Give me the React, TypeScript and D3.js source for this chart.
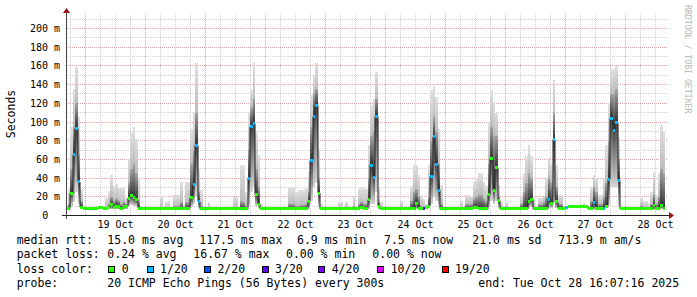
import React from 'react';
import * as d3 from 'd3';

// ---- DATA: hourly buckets, first bucket = 2025-10-18 16:00 UTC ----
// median rtt (ms)
const medianMs = [
  7, 7.5, 24, 65, 93, 36, 9, 7, // Oct 18 16h-23h
  7, 7, 7, 7, 7, 8.3, 8.3, 7, 7, 8.5, 11.5, 8.5, 10, 10, 7, 10, 10, 18.7, 21, 19, 17, 8, 7, 7, // Oct 19
  7, 7, 7, 7, 7, 7, 7, 7, 7, 7, 7, 7, 7, 7, 7, 7, 7, 7.5, 19, 33, 75, 14.5, 7, 7, // Oct 20
  7, 7, 7, 7, 7, 7, 7, 7, 7, 7, 7, 7, 7, 7, 7, 7, 7, 40, 95, 98.5, 22, 12, 7, 7, // Oct 21
  7, 7, 7, 7, 7, 7, 7, 7, 7, 7, 7, 7, 7, 7, 7, 7, 7, 15, 59, 106, 118, 24, 7, 7, // Oct 22
  7, 7, 7, 7, 7, 7, 7, 7, 7, 7, 7, 7, 7, 7, 9, 7, 7, 17, 54, 41, 106, 10, 7, 7, // Oct 23
  7, 7, 7, 7, 7, 7, 7, 7, 7, 7, 7, 7, 12.5, 8, 7, 7, 8.5, 10, 42, 84, 55, 27, 7, 7, // Oct 24
  7, 7, 7, 7, 7, 7, 7, 7, 7, 7, 7, 8.5, 8.5, 7, 7, 7, 7, 22, 61, 27, 51, 16, 7, 7, // Oct 25
  7, 7, 7, 7, 7, 7, 7, 7, 7, 15, 17, 7, 7, 7, 7, 7, 7, 17.6, 13, 81, 14.5, 7.5, 8, 8, // Oct 26
  9, 9.8, 9.8, 9.8, 9.8, 9.8, 9.8, 9.8, 9.8, 7, 7, 14.4, 7, 7, 7, 8, 10, 38.7, 104, 91, 99, 37.6, 7, 7, // Oct 27
  7, 7, 7, 7, 7, 7, 8, 8, 8, 8, 7, 11, 7, 7.5, 11, 8, // Oct 28 0h-15h
];

// lost pings out of 20
const lossCount = [
  0, 0, 0, 1, 1, 1, 0, 0,
  0, 0, 0, 0, 0, 0, 0, 0, 0, 0, 0, 0, 0, 0, 0, 0, 0, 0, 0, 0, 0, 0, 0, 0,
  0, 0, 0, 0, 0, 0, 0, 0, 0, 0, 0, 0, 0, 0, 0, 0, 0, 0, 0, 1, 1, 1, 0, 0,
  0, 0, 0, 0, 0, 0, 0, 0, 0, 0, 0, 0, 0, 0, 0, 0, 0, 1, 1, 1, 0, 0, 0, 0,
  0, 0, 0, 0, 0, 0, 0, 0, 0, 0, 0, 0, 0, 0, 0, 0, 0, 0, 1, 1, 1, 0, 0, 0,
  0, 0, 0, 0, 0, 0, 0, 0, 0, 0, 0, 0, 0, 0, 0, 0, 0, 0, 1, 1, 1, 0, 0, 0,
  0, 0, 0, 0, 0, 0, 0, 0, 0, 0, 0, 0, 0, 0, 0, 3, 0, 0, 1, 1, 1, 1, 0, 0,
  0, 0, 0, 0, 0, 0, 0, 0, 0, 0, 0, 0, 0, 0, 0, 0, 0, 0, 0, 0, 0, 0, 0, 0,
  0, 0, 0, 0, 0, 0, 0, 0, 0, 0, 0, 0, 0, 0, 0, 0, 0, 1, 0, 1, 0, 0, 0, 0,
  1, 0, 0, 0, 0, 0, 0, 0, 0, 0, 0, 1, 0, 0, 0, 1, 0, 1, 1, 1, 1, 1, 0, 0,
  0, 0, 0, 0, 0, 0, 0, 0, 0, 0, 0, 0, 0, 0, 0, 0,
];

// smoke: lowest ping (ms)
const pingLow = [
  6.5, 6.6, 9, 14, 25, 12, 7, 6.5,
  6.5, 6.5, 6.5, 6.5, 6.5, 6.5, 6.5, 6.5, 6.5, 6.5, 6.5, 6.5, 6.5, 6.5, 6.5, 6.5, 6.5, 10, 11, 10, 10, 7, 6.5, 6.5,
  6.5, 6.5, 6.5, 6.5, 6.5, 6.5, 6.5, 6.5, 6.5, 6.5, 6.5, 6.5, 6.5, 6.5, 6.5, 6.5, 6.5, 6.5, 9, 12, 20, 8, 6.5, 6.5,
  6.5, 6.5, 6.5, 6.5, 6.5, 6.5, 6.5, 6.5, 6.5, 6.5, 6.5, 6.5, 6.5, 6.5, 6.5, 6.5, 6.5, 10, 25, 30, 10, 8, 6.5, 6.5,
  6.5, 6.5, 6.5, 6.5, 6.5, 6.5, 6.5, 6.5, 6.5, 6.5, 6.5, 6.5, 6.5, 6.5, 6.5, 6.5, 6.5, 8, 15, 30, 35, 9, 6.5, 6.5,
  6.5, 6.5, 6.5, 6.5, 6.5, 6.5, 6.5, 6.5, 6.5, 6.5, 6.5, 6.5, 6.5, 6.5, 6.5, 6.5, 6.5, 8, 12, 12, 25, 7, 6.5, 6.5,
  6.5, 6.5, 6.5, 6.5, 6.5, 6.5, 6.5, 6.5, 6.5, 6.5, 6.5, 6.5, 6.5, 6.5, 6.5, 6.5, 6.5, 7.5, 12, 20, 15, 9, 6.5, 6.5,
  6.5, 6.5, 6.5, 6.5, 6.5, 6.5, 6.5, 6.5, 6.5, 6.5, 6.5, 6.5, 6.5, 6.5, 6.5, 6.5, 6.5, 9, 15, 12, 15, 8, 6.5, 6.5,
  6.5, 6.5, 6.5, 6.5, 6.5, 6.5, 6.5, 6.5, 6.5, 8, 9, 6.5, 6.5, 6.5, 6.5, 6.5, 6.5, 8, 8, 20, 8, 6.5, 6.5, 6.5,
  7.5, 8, 8, 8, 8, 8, 8, 8, 8, 6.5, 6.5, 8, 6.5, 6.5, 6.5, 6.5, 8, 12, 30, 30, 30, 10, 6.5, 6.5,
  6.5, 6.5, 6.5, 6.5, 6.5, 6.5, 6.5, 6.5, 6.5, 6.5, 6.5, 6.5, 6.5, 6.5, 6.5, 6.5,
];

// smoke: top of the dense (dark) part (ms)
const pingUpper = [
  7.5, 12, 50, 95, 120, 65, 15, 7.5,
  7.5, 7.5, 7.5, 7.5, 7.5, 9, 9, 7.5, 9, 12, 20, 15, 18, 16, 12, 14, 12, 35, 50, 55, 45, 14, 7.5, 7.5,
  7.5, 7.5, 7.5, 7.5, 7.5, 7.5, 9, 7.5, 8, 8, 7.5, 10, 10, 10, 14, 8, 14, 14, 55, 70, 110, 25, 10, 7.5,
  7.5, 9, 7.5, 7.5, 7.5, 7.5, 7.5, 7.5, 7.5, 7.5, 7.5, 9, 9, 7.5, 15, 14, 10, 70, 115, 125, 50, 30, 8, 7.5,
  7.5, 7.5, 7.5, 7.5, 7.5, 8, 8, 7.5, 7.5, 12, 12, 12, 10, 10, 11, 11, 12, 25, 95, 130, 135, 40, 8, 7.5,
  7.5, 7.5, 7.5, 7.5, 7.5, 8, 8, 7.5, 8, 7.5, 7.5, 10, 7.5, 12, 14, 12, 12, 40, 85, 90, 125, 15, 8, 7.5,
  7.5, 7.5, 7.5, 7.5, 7.5, 7.5, 9, 7.5, 7.5, 7.5, 15, 25, 28, 20, 10, 9, 9, 20, 80, 105, 90, 55, 12, 7.5,
  7.5, 7.5, 7.5, 7.5, 7.5, 7.5, 9, 7.5, 12, 12, 12, 18, 20, 22, 22, 18, 15, 55, 95, 85, 85, 20, 8, 7.5,
  8, 7.5, 7.5, 7.5, 7.5, 7.5, 12, 25, 35, 45, 40, 10, 7.5, 12, 12, 14, 20, 40, 35, 110, 30, 12, 12, 8.5,
  9.5, 10.5, 10.5, 10.5, 10.5, 10.5, 10.5, 11, 10.5, 7.5, 15, 30, 25, 12, 12, 20, 35, 80, 130, 130, 135, 60, 8, 7.5,
  7.5, 7.5, 7.5, 7.5, 7.5, 7.5, 10, 9, 9, 8.5, 12, 22, 12, 20, 50, 45,
];

// smoke: highest ping (ms)
const pingHigh = [
  10, 28, 95, 135, 159, 105, 28, 9,
  8, 8, 8, 8, 8, 10, 10, 9, 19, 26, 43, 32, 34, 29, 29, 29, 19, 60, 88, 95, 82, 40, 10, 9,
  8, 8, 8, 8, 8, 8, 21, 9, 14.5, 15, 9, 22, 22, 22, 36, 12, 36, 36, 93, 110, 163, 50, 27, 9,
  8, 14, 8, 8, 8, 8, 8.5, 8.5, 8, 8, 8, 20, 20, 8, 54, 54, 25, 110, 134, 164, 89, 65, 12, 8,
  8, 8, 8, 8, 8, 8.5, 8.5, 8, 8, 30, 30, 30, 25, 27, 27, 27, 29, 46, 129, 150, 163, 71, 12, 8,
  8, 8, 8, 8, 8, 14.5, 14.5, 8, 14.5, 8, 8, 21, 8, 29, 29, 29, 28, 75, 118, 125, 153, 30, 14, 10,
  8, 8, 8, 8, 8, 8, 15, 8, 8, 8, 32, 54, 54, 43, 20, 18, 12, 54, 134, 139, 127, 93, 33, 10,
  8, 8, 8, 8, 8, 8, 15, 8, 22, 22, 21, 36, 40, 45, 45, 36, 32, 100, 134, 121, 110, 33, 14, 10,
  14, 8, 8, 9, 9, 9, 20, 45, 64, 75, 64, 19, 10, 19, 19, 21.5, 40, 61, 55, 145, 54, 22, 22, 10,
  10, 11, 11, 11, 11, 11, 11, 13, 11, 9, 30, 43, 40, 22, 22, 40, 75, 120, 157, 157, 160, 84, 10, 8,
  8, 8, 8, 8, 8, 8, 19, 15, 15, 12, 25, 47, 22, 45, 97, 90,
];

const lossLevels = [0, 1, 2, 3, 4, 10, 19];
const lossColors = ['#26ff00', '#00b8ff', '#0059ff', '#5e00ff', '#7e00ff', '#dd00ff', '#ff0000'];
const lossLabels = ['0', '1/20', '2/20', '3/20', '4/20', '10/20', '19/20'];

const yTickValues = [0, 20, 40, 60, 80, 100, 120, 140, 160, 180, 200];
const xLabelDays = [19, 20, 21, 22, 23, 24, 25, 26, 27, 28];
const xLabelTexts = ['19 Oct', '20 Oct', '21 Oct', '22 Oct', '23 Oct', '24 Oct', '25 Oct', '26 Oct', '27 Oct', '28 Oct'];

const rttStats = ['15.0 ms avg', '117.5 ms max', '6.9 ms min', '7.5 ms now', '21.0 ms sd', '713.9 m am/s'];
const lossStats = ['0.24 % avg', '16.67 % max', '0.00 % min', '0.00 % now'];
const probeText = '20 ICMP Echo Pings (56 Bytes) every 300s';
const endText = 'end: Tue Oct 28 16:07:16 2025';

const START = Date.UTC(2025, 9, 18, 16, 7, 16);
const END = Date.UTC(2025, 9, 28, 16, 7, 16);
const FIRST_BUCKET = Date.UTC(2025, 9, 18, 16, 0, 0);
const HOUR = 3600 * 1000;

const MONO = '"DejaVu Sans Mono", "Liberation Mono", monospace';

export default function App() {
  const W = 697, H = 297;
  const plotLeft = 66, plotRight = 666, plotTop = 14, plotBottom = 215.5;
  const x = d3.scaleUtc().domain([new Date(START), new Date(END)]).range([65.8, 665.8]);
  const y = d3.scaleLinear().domain([0, 200]).range([215.5, 28.5]);
  const medHalf = 1.6; // half height of loss-coloured median band (ms)

  const buckets = medianMs.map((m, i) => {
    const t0 = new Date(FIRST_BUCKET + i * HOUR);
    const t1 = new Date(FIRST_BUCKET + (i + 1) * HOUR);
    let k = 0;
    lossLevels.forEach((lv, j) => { if (lossCount[i] >= lv) k = j; });
    return {
      x0: Math.round(x(t0)), x1: Math.round(x(t1)),
      med: m, k, lo: Math.min(pingLow[i], m), q: Math.max(pingUpper[i], m), hi: Math.max(pingHigh[i], pingUpper[i], m),
    };
  });

  const medPts: [number, number][] = [];
  buckets.forEach(b => { medPts.push([b.x0, y(b.med)]); medPts.push([b.x1, y(b.med)]); });
  const medPath = d3.line()(medPts) || '';

  const minorTimes = d3.utcHour.every(6)!.range(new Date(START), new Date(END)).filter(t => t.getUTCHours() !== 0);
  const majorTimes = d3.utcDay.range(new Date(START), new Date(END));
  const minorVals = d3.range(10, 216, 10).filter(v => v % 20 !== 0);
  const majorVals = d3.range(20, 216, 20);
  const gy = (v: number) => Math.floor(y(v)) + 0.5;
  const gx = (t: Date) => Math.floor(x(t)) + 0.5;

  const legendY = [244, 258.3, 272.6, 286.9];
  const rttX = [107.3, 199.3, 297, 384, 472.3, 558.3];
  const lossX = [107.3, 193.3, 286, 372.3];
  const boxX = [108.3, 146.7, 204, 261.7, 318.3, 377.3, 441.7];

  return (
    <svg width={W} height={H} style={{ position: 'absolute', left: 0, top: 0, display: 'block', background: '#fff' }}
      fontFamily={MONO}>
      <defs>
        <clipPath id="plotClip"><rect x={plotLeft} y={0} width={plotRight - plotLeft} height={plotBottom} /></clipPath>
        <linearGradient id="gLow" x1="0" y1="1" x2="0" y2="0">
          <stop offset="0" stopColor="#d6d6d6" /><stop offset="1" stopColor="#444444" />
        </linearGradient>
        <linearGradient id="gMid" x1="0" y1="1" x2="0" y2="0">
          <stop offset="0" stopColor="#333333" /><stop offset="1" stopColor="#a4a4a4" />
        </linearGradient>
        <linearGradient id="gTop" x1="0" y1="1" x2="0" y2="0">
          <stop offset="0" stopColor="#bcbcbc" /><stop offset="1" stopColor="#e0e0e0" />
        </linearGradient>
      </defs>
      <rect x={0} y={0} width={W} height={H} fill="#fff" />

      {/* grid */}
      <g shapeRendering="crispEdges" strokeDasharray="1,1" strokeWidth={1}>
        {minorTimes.map((t, i) => <line key={'mv' + i} x1={gx(t)} x2={gx(t)} y1={plotTop} y2={215} stroke="#cfcfcf" />)}
        {minorVals.map(v => <line key={'mh' + v} x1={plotLeft} x2={plotRight + 2} y1={gy(v)} y2={gy(v)} stroke="#cfcfcf" />)}
        {majorTimes.map((t, i) => <line key={'Mv' + i} x1={gx(t)} x2={gx(t)} y1={plotTop} y2={215} stroke="#e3a3a3" />)}
        {majorVals.map(v => <line key={'Mh' + v} x1={plotLeft} x2={plotRight + 2} y1={gy(v)} y2={gy(v)} stroke="#e3a3a3" />)}
      </g>

      <g clipPath="url(#plotClip)">
        {/* smoke */}
        <g shapeRendering="crispEdges">
          {buckets.map((b, i) => (
            <g key={'s' + i}>
              {y(b.q) - y(b.hi) > 0.3 && <rect x={b.x0} width={b.x1 - b.x0} y={y(b.hi)} height={y(b.q) - y(b.hi)} fill="url(#gTop)" />}
              {y(b.med) - y(b.q) > 0.3 && <rect x={b.x0} width={b.x1 - b.x0} y={y(b.q)} height={y(b.med) - y(b.q)} fill="url(#gMid)" />}
              {y(b.lo) - y(b.med) > 0.3 && <rect x={b.x0} width={b.x1 - b.x0} y={y(b.med)} height={y(b.lo) - y(b.med)} fill="url(#gLow)" />}
            </g>
          ))}
        </g>
        {/* median line */}
        <path d={medPath} fill="none" stroke="#202020" strokeWidth={1} />
        {/* loss-coloured median band */}
        <g shapeRendering="crispEdges">
          {buckets.map((b, i) => (
            <rect key={'m' + i} x={b.x0} width={b.x1 - b.x0} y={y(b.med + medHalf)} height={y(b.med - medHalf) - y(b.med + medHalf)}
              fill={lossColors[b.k]} />
          ))}
        </g>
      </g>

      {/* axes */}
      <g shapeRendering="crispEdges">
        <line x1={62} x2={670} y1={215.5} y2={215.5} stroke="#222" />
        <line x1={66.5} x2={66.5} y1={219} y2={13} stroke="#444" />
      </g>
      <polygon points="669,212 669,219 674,215.5" fill="#9b1010" />
      <polygon points="63,13 70,13 66.5,8" fill="#9b1010" />

      {/* y labels */}
      <g fontSize={10} fill="#000">
        {yTickValues.map(v => (
          <text key={'yl' + v} x={v === 0 ? 48.2 : 60} y={gy(v) + 3.6} textAnchor="end">{v === 0 ? '0' : `${v} m`}</text>
        ))}
      </g>
      {/* x labels */}
      <g fontSize={10} fill="#000">
        {xLabelDays.map((d, i) => (
          <text key={'xl' + d} x={x(new Date(Date.UTC(2025, 9, d, 12)))} y={227.5} textAnchor="middle">{xLabelTexts[i]}</text>
        ))}
      </g>
      <text transform="translate(15,114) rotate(-90)" fontSize={11.5} textAnchor="middle" fill="#000">Seconds</text>
      <text transform="translate(685,5) rotate(90)" fontSize={8.2} fill="#b8b8b8">RRDTOOL / TOBI OETIKER</text>

      {/* legend */}
      <g fontSize={11.5} fill="#000" style={{ whiteSpace: 'pre' }}>
        <text x={16.7} y={legendY[0]}>median rtt:</text>
        {rttStats.map((s, i) => <text key={'r' + i} x={rttX[i]} y={legendY[0]}>{s}</text>)}
        <text x={16.7} y={legendY[1]}>packet loss:</text>
        {lossStats.map((s, i) => <text key={'l' + i} x={lossX[i]} y={legendY[1]}>{s}</text>)}
        <text x={16.7} y={legendY[2]}>loss color:</text>
        {lossLabels.map((s, i) => (
          <g key={'c' + i}>
            <rect x={Math.round(boxX[i]) + 0.5} y={266.5} width={6} height={6} fill={lossColors[i]} stroke="#000" shapeRendering="crispEdges" />
            <text x={boxX[i] + 13.4} y={legendY[2]}>{s}</text>
          </g>
        ))}
        <text x={16.7} y={legendY[3]}>probe:</text>
        <text x={107.3} y={legendY[3]}>{probeText}</text>
        <text x={478.3} y={legendY[3]}>{endText}</text>
      </g>
    </svg>
  );
}
